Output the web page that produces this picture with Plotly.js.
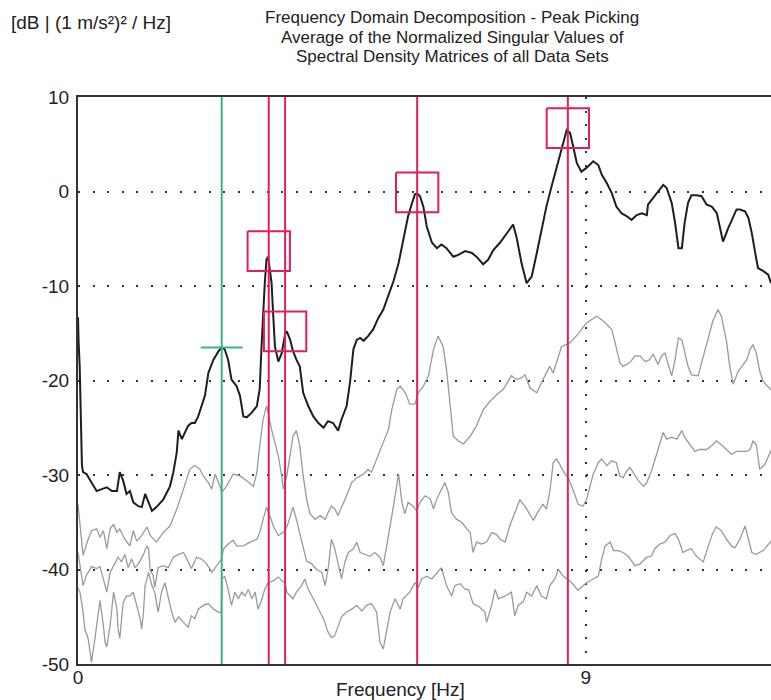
<!DOCTYPE html>
<html>
<head>
<meta charset="utf-8">
<script src="https://cdn.plot.ly/plotly-3.0.1.min.js"></script>
<style>html,body{margin:0;padding:0;background:#fff;}#chart{width:771px;height:700px;}</style>
</head>
<body>
<div id="chart"></div>
<script>
// ---- data (frequency [Hz], level [dB]) ----
const titleLines = [
  "Frequency Domain Decomposition - Peak Picking",
  "Average of the Normalized Singular Values of",
  "Spectral Density Matrices of all Data Sets"
];
const yUnitLabel = "[dB | (1 m/s²)² / Hz]";
const xTitle = "Frequency [Hz]";
const xTickVals = [0, 9];
const xTickText = ["0", "9"];
const yTickVals = [-50, -40, -30, -20, -10, 0, 10];
const yTickText = ["-50", "-40", "-30", "-20", "-10", "0", "10"];

// first singular value (black)
const sv1 = [[0,-13.3],[0.005,-15.8],[0.01,-15.8],[0.03,-18.5],[0.05,-24.5],[0.07,-29.0],[0.09,-29.7],[0.15,-29.9],[0.24,-30.8],[0.33,-31.7],[0.42,-31.5],[0.51,-31.3],[0.60,-31.7],[0.69,-31.7],[0.74,-29.7],[0.80,-30.6],[0.86,-32.0],[0.92,-31.7],[0.98,-32.9],[1.07,-33.3],[1.13,-33.4],[1.19,-32.0],[1.25,-32.9],[1.31,-33.8],[1.39,-33.4],[1.51,-32.6],[1.63,-31.2],[1.69,-29.7],[1.75,-27.6],[1.78,-25.3],[1.84,-26.2],[1.90,-25.5],[1.95,-24.8],[2.01,-24.5],[2.07,-24.5],[2.13,-23.8],[2.19,-22.7],[2.25,-21.6],[2.31,-19.2],[2.40,-17.8],[2.49,-16.9],[2.55,-16.5],[2.60,-16.7],[2.66,-17.8],[2.72,-19.9],[2.81,-20.6],[2.87,-21.6],[2.93,-23.8],[2.99,-23.9],[3.08,-23.4],[3.17,-22.7],[3.22,-20.9],[3.25,-16.7],[3.28,-12.8],[3.31,-9.7],[3.34,-7.2],[3.37,-6.9],[3.40,-8.3],[3.43,-9.7],[3.46,-13.2],[3.49,-16.4],[3.55,-18.0],[3.61,-17.1],[3.67,-15.1],[3.70,-14.8],[3.76,-15.7],[3.81,-16.9],[3.87,-17.8],[3.93,-18.5],[3.99,-21.3],[4.08,-22.7],[4.17,-23.8],[4.26,-24.5],[4.35,-25.0],[4.43,-24.3],[4.52,-24.5],[4.61,-25.3],[4.67,-24.1],[4.76,-22.7],[4.82,-20.2],[4.88,-16.7],[4.94,-15.7],[5.00,-15.5],[5.06,-15.8],[5.14,-15.3],[5.23,-14.6],[5.32,-13.4],[5.41,-12.5],[5.50,-11.1],[5.59,-9.5],[5.68,-7.6],[5.76,-5.1],[5.85,-2.6],[5.91,-1.4],[5.97,-0.3],[6.01,-0.2],[6.06,-0.5],[6.12,-1.6],[6.18,-3.7],[6.27,-5.4],[6.36,-6.0],[6.44,-5.6],[6.53,-6.0],[6.65,-6.9],[6.74,-6.7],[6.86,-6.3],[6.98,-6.5],[7.06,-6.9],[7.18,-7.7],[7.27,-7.2],[7.36,-6.2],[7.48,-5.4],[7.60,-4.4],[7.71,-3.5],[7.77,-4.8],[7.86,-7.6],[7.95,-9.7],[8.04,-9.0],[8.13,-6.5],[8.21,-4.0],[8.30,-1.6],[8.39,0.5],[8.48,2.6],[8.57,4.4],[8.66,6.5],[8.72,6.2],[8.78,4.4],[8.84,3.0],[8.92,2.1],[9.01,2.5],[9.13,3.2],[9.22,2.8],[9.28,1.8],[9.37,0.9],[9.46,-0.2],[9.54,-1.6],[9.63,-2.3],[9.72,-2.6],[9.81,-3.0],[9.90,-2.5],[9.99,-2.3],[10.08,-2.5],[10.10,-1.4],[10.19,-0.7],[10.28,0.0],[10.37,0.7],[10.43,0.4],[10.52,-1.2],[10.58,-3.3],[10.64,-6.0],[10.70,-6.0],[10.75,-3.3],[10.81,-1.2],[10.87,-0.4],[10.96,-0.4],[11.05,-0.5],[11.14,-1.4],[11.23,-1.6],[11.32,-2.3],[11.37,-3.7],[11.43,-5.3],[11.52,-3.9],[11.61,-2.6],[11.67,-1.9],[11.73,-1.9],[11.82,-2.1],[11.88,-2.8],[11.94,-4.4],[12.00,-6.5],[12.05,-8.1],[12.14,-8.4],[12.23,-8.8],[12.28,-9.7]];

// second singular value (grey)
const sv2 = [[0,-33.1],[0.09,-38.5],[0.18,-36.8],[0.24,-35.9],[0.33,-35.7],[0.39,-36.6],[0.45,-35.9],[0.51,-37.8],[0.57,-35.7],[0.63,-35.2],[0.69,-36.1],[0.74,-35.7],[0.83,-36.8],[0.92,-37.5],[0.98,-35.9],[1.04,-37.0],[1.13,-36.4],[1.22,-35.5],[1.28,-36.4],[1.39,-37.1],[1.45,-36.6],[1.51,-36.1],[1.63,-35.4],[1.75,-33.6],[1.87,-31.5],[1.98,-29.4],[2.07,-29.0],[2.16,-29.4],[2.22,-30.1],[2.31,-30.8],[2.37,-31.5],[2.43,-29.9],[2.49,-30.8],[2.55,-31.8],[2.63,-31.2],[2.75,-29.9],[2.87,-30.1],[2.99,-30.6],[3.11,-31.2],[3.17,-29.7],[3.22,-26.9],[3.28,-24.1],[3.34,-22.7],[3.37,-23.4],[3.43,-25.2],[3.49,-26.6],[3.55,-28.0],[3.61,-30.1],[3.64,-31.5],[3.70,-30.1],[3.76,-28.0],[3.81,-25.9],[3.87,-25.3],[3.93,-26.9],[3.99,-30.1],[4.05,-32.5],[4.11,-34.1],[4.20,-34.7],[4.29,-34.3],[4.38,-34.7],[4.43,-34.0],[4.49,-33.3],[4.55,-33.6],[4.61,-34.3],[4.67,-33.4],[4.76,-32.2],[4.85,-30.8],[4.94,-30.3],[5.06,-29.9],[5.14,-29.4],[5.20,-29.7],[5.29,-28.3],[5.38,-26.9],[5.50,-25.2],[5.56,-23.1],[5.65,-20.9],[5.71,-20.6],[5.80,-21.3],[5.88,-22.5],[5.97,-22.5],[6.03,-21.3],[6.12,-20.6],[6.21,-19.5],[6.30,-16.7],[6.38,-15.3],[6.47,-16.4],[6.53,-18.8],[6.59,-22.7],[6.65,-25.9],[6.74,-26.4],[6.83,-26.7],[6.95,-25.9],[7.06,-24.8],[7.18,-23.1],[7.30,-22.2],[7.42,-21.5],[7.54,-20.9],[7.68,-19.5],[7.77,-19.9],[7.86,-19.7],[7.92,-19.4],[8.01,-20.8],[8.13,-21.3],[8.24,-19.9],[8.36,-18.5],[8.42,-19.2],[8.48,-18.1],[8.57,-16.4],[8.72,-16.0],[8.86,-15.1],[9.01,-13.9],[9.19,-13.2],[9.31,-13.7],[9.46,-14.6],[9.51,-15.8],[9.60,-18.1],[9.66,-18.5],[9.78,-18.1],[9.87,-17.4],[9.96,-17.4],[10.05,-18.0],[10.13,-17.8],[10.19,-17.2],[10.28,-18.3],[10.34,-17.4],[10.40,-17.1],[10.46,-18.3],[10.52,-19.5],[10.58,-17.8],[10.64,-15.5],[10.70,-15.7],[10.75,-17.1],[10.81,-18.5],[10.87,-19.4],[10.99,-19.5],[11.05,-18.1],[11.14,-16.0],[11.25,-13.7],[11.34,-12.5],[11.40,-13.2],[11.49,-15.8],[11.55,-18.5],[11.61,-20.4],[11.70,-19.0],[11.79,-18.3],[11.85,-17.8],[11.91,-16.7],[11.96,-16.2],[12.02,-17.1],[12.08,-19.0],[12.14,-20.1],[12.28,-21.0]];

// third singular value (grey)
const sv3 = [[0,-38.2],[0.03,-39.5],[0.09,-41.7],[0.15,-40.6],[0.24,-39.7],[0.33,-39.9],[0.39,-39.7],[0.48,-41.7],[0.51,-42.4],[0.57,-40.3],[0.66,-39.2],[0.71,-38.7],[0.77,-39.2],[0.83,-38.4],[0.89,-39.8],[0.95,-38.9],[1.01,-39.8],[1.07,-39.4],[1.16,-38.4],[1.22,-37.5],[1.25,-37.8],[1.28,-40.1],[1.33,-40.6],[1.36,-41.9],[1.42,-39.8],[1.51,-39.6],[1.60,-39.8],[1.69,-38.7],[1.78,-38.4],[1.87,-38.2],[1.93,-38.9],[2.01,-39.9],[2.10,-38.7],[2.19,-38.9],[2.28,-39.4],[2.37,-40.3],[2.46,-39.6],[2.54,-38.9],[2.58,-37.8],[2.66,-37.3],[2.75,-36.9],[2.81,-37.5],[2.93,-37.5],[3.05,-37.1],[3.17,-36.8],[3.22,-36.1],[3.28,-34.7],[3.34,-33.4],[3.40,-34.3],[3.46,-35.4],[3.55,-36.4],[3.61,-36.1],[3.67,-35.9],[3.73,-35.0],[3.81,-33.4],[3.87,-34.7],[3.93,-36.1],[3.99,-37.5],[4.05,-39.1],[4.14,-39.4],[4.23,-40.0],[4.32,-40.3],[4.38,-41.7],[4.44,-39.6],[4.49,-36.8],[4.55,-37.8],[4.61,-39.6],[4.67,-41.0],[4.73,-39.2],[4.79,-38.2],[4.88,-37.8],[4.94,-37.1],[5.00,-38.2],[5.08,-38.4],[5.17,-38.6],[5.26,-38.2],[5.35,-38.7],[5.41,-39.6],[5.50,-36.6],[5.59,-33.3],[5.68,-29.9],[5.74,-32.9],[5.79,-34.1],[5.85,-32.9],[5.94,-33.3],[6.00,-33.8],[6.06,-32.9],[6.15,-32.2],[6.24,-32.5],[6.30,-33.6],[6.36,-32.5],[6.44,-31.5],[6.50,-30.8],[6.56,-31.8],[6.62,-34.0],[6.71,-34.7],[6.80,-35.0],[6.89,-35.7],[6.95,-36.1],[7.00,-38.2],[7.06,-37.1],[7.15,-37.3],[7.24,-37.1],[7.33,-36.1],[7.42,-36.3],[7.48,-36.8],[7.57,-37.1],[7.65,-35.4],[7.74,-34.0],[7.83,-32.6],[7.92,-33.3],[8.01,-34.3],[8.07,-34.8],[8.16,-33.8],[8.24,-33.1],[8.30,-33.6],[8.36,-31.8],[8.42,-28.7],[8.48,-28.3],[8.54,-28.9],[8.63,-29.9],[8.69,-30.3],[8.75,-31.2],[8.81,-32.2],[8.86,-33.1],[8.95,-33.3],[9.01,-32.6],[9.07,-31.2],[9.13,-29.9],[9.22,-28.7],[9.28,-28.3],[9.37,-29.0],[9.46,-28.5],[9.54,-28.7],[9.60,-30.1],[9.66,-30.3],[9.72,-29.6],[9.78,-29.2],[9.87,-30.1],[9.93,-30.6],[10.02,-31.2],[10.08,-30.8],[10.16,-29.6],[10.25,-27.8],[10.31,-26.8],[10.37,-25.5],[10.43,-26.2],[10.52,-26.0],[10.61,-26.2],[10.70,-25.3],[10.75,-26.0],[10.84,-26.8],[10.93,-27.5],[11.02,-27.3],[11.14,-27.3],[11.25,-26.8],[11.31,-26.4],[11.40,-26.8],[11.49,-27.3],[11.58,-27.8],[11.67,-27.5],[11.76,-27.5],[11.85,-27.5],[11.91,-27.3],[11.96,-26.4],[12.02,-26.8],[12.08,-29.4],[12.17,-28.9],[12.28,-27.4]];

// fourth singular value (grey)
const sv4 = [[0,-42.0],[0.035,-42.4],[0.09,-44.5],[0.12,-46.3],[0.18,-47.3],[0.21,-48.7],[0.24,-49.8],[0.30,-47.3],[0.33,-45.8],[0.39,-43.3],[0.45,-45.9],[0.48,-47.7],[0.51,-48.2],[0.57,-45.9],[0.63,-42.4],[0.69,-44.2],[0.71,-46.3],[0.74,-47.3],[0.80,-43.5],[0.86,-42.8],[0.92,-42.8],[0.98,-42.4],[1.04,-43.8],[1.10,-45.2],[1.13,-46.3],[1.16,-44.5],[1.19,-41.7],[1.25,-40.3],[1.31,-41.7],[1.36,-42.4],[1.42,-44.5],[1.48,-42.4],[1.54,-41.4],[1.60,-43.1],[1.66,-44.5],[1.72,-45.6],[1.78,-45.0],[1.87,-45.6],[1.95,-46.1],[2.01,-44.9],[2.07,-45.2],[2.13,-44.2],[2.22,-43.8],[2.31,-43.6],[2.40,-44.2],[2.49,-44.5],[2.54,-44.6],[2.55,-41.0],[2.60,-40.7],[2.66,-42.1],[2.72,-43.8],[2.78,-42.4],[2.84,-43.1],[2.90,-42.4],[2.96,-42.8],[3.02,-42.1],[3.08,-43.1],[3.14,-42.4],[3.19,-44.2],[3.25,-43.3],[3.31,-42.1],[3.37,-41.4],[3.46,-41.2],[3.55,-40.8],[3.61,-41.2],[3.67,-41.4],[3.70,-42.4],[3.76,-42.8],[3.81,-43.1],[3.87,-42.4],[3.96,-41.7],[4.02,-41.0],[4.08,-42.1],[4.17,-43.1],[4.26,-44.2],[4.35,-45.2],[4.43,-46.6],[4.49,-47.2],[4.55,-47.0],[4.61,-45.9],[4.67,-45.0],[4.76,-44.5],[4.85,-44.2],[4.94,-43.8],[5.03,-44.4],[5.11,-43.8],[5.20,-43.6],[5.29,-44.5],[5.35,-47.7],[5.41,-48.4],[5.47,-46.6],[5.53,-44.5],[5.62,-43.1],[5.71,-44.2],[5.76,-43.1],[5.88,-42.4],[5.97,-41.4],[6.03,-41.9],[6.09,-41.0],[6.18,-40.7],[6.27,-41.0],[6.36,-40.3],[6.44,-39.8],[6.53,-41.7],[6.62,-42.8],[6.68,-41.7],[6.77,-41.5],[6.86,-42.1],[6.92,-42.1],[7.00,-43.6],[7.12,-44.0],[7.21,-44.5],[7.24,-45.6],[7.33,-43.8],[7.39,-42.1],[7.45,-43.1],[7.57,-42.8],[7.68,-42.4],[7.74,-44.9],[7.80,-43.8],[7.89,-43.4],[7.95,-42.4],[8.04,-42.8],[8.13,-41.7],[8.21,-42.8],[8.30,-43.1],[8.36,-41.7],[8.45,-41.0],[8.51,-40.0],[8.60,-40.7],[8.66,-41.0],[8.75,-41.4],[8.86,-42.2],[8.92,-41.9],[9.01,-41.4],[9.13,-41.0],[9.22,-40.7],[9.28,-38.9],[9.34,-37.5],[9.43,-37.1],[9.49,-38.0],[9.57,-38.0],[9.66,-38.2],[9.75,-38.6],[9.87,-39.6],[9.96,-39.4],[10.02,-39.1],[10.08,-38.7],[10.16,-38.6],[10.22,-37.8],[10.31,-37.3],[10.40,-37.1],[10.49,-36.4],[10.58,-36.2],[10.64,-36.8],[10.72,-38.2],[10.78,-38.0],[10.87,-37.8],[10.96,-38.6],[11.08,-39.2],[11.17,-37.5],[11.25,-36.1],[11.31,-35.5],[11.40,-35.9],[11.49,-36.8],[11.58,-37.5],[11.64,-37.7],[11.73,-36.8],[11.82,-35.4],[11.88,-36.8],[11.94,-38.2],[12.02,-38.4],[12.14,-38.0],[12.28,-37.0]];

// picked peaks (red) and reference marker (green)
const pickedFreqs  = [3.38, 3.67, 6.01, 8.68];
const pickedLevels = [-6.3, -14.8, -0.1, 6.7];
const refFreq  = [2.546];
const refLevel = [-16.5];

// ---- drawing ----
const X_MAX = 12.28, Y_MIN = -50, Y_MAX = 10;
const BOX_HW = 0.375, BOX_HH = 2.1, MARK_HW = 0.37;
const RED = '#e01f5b', GREEN = '#35b48b';
const FONT = 'Liberation Sans, Arial, Helvetica, sans-serif';

function curve(pairs, color, width) {
  return {type:'scatter', mode:'lines', x:pairs.map(p=>p[0]), y:pairs.map(p=>p[1]),
          line:{color:color, width:width, shape:'linear'}, hoverinfo:'skip', showlegend:false};
}
function vlines(xs, color) {
  const x = [], y = [];
  xs.forEach(f => { x.push(f, f, null); y.push(Y_MIN, Y_MAX, null); });
  return {type:'scatter', mode:'lines', x, y, line:{color, width:2}, hoverinfo:'skip', showlegend:false};
}
function boxes(xs, ys) {
  const x = [], y = [];
  xs.forEach((f, i) => {
    const l = ys[i];
    x.push(f-BOX_HW, f+BOX_HW, f+BOX_HW, f-BOX_HW, f-BOX_HW, null);
    y.push(l+BOX_HH, l+BOX_HH, l-BOX_HH, l-BOX_HH, l+BOX_HH, null);
  });
  return {type:'scatter', mode:'lines', x, y, line:{color:RED, width:2}, hoverinfo:'skip', showlegend:false};
}
function hmark(xs, ys) {
  const x = [], y = [];
  xs.forEach((f, i) => { x.push(f-MARK_HW, f+MARK_HW, null); y.push(ys[i], ys[i], null); });
  return {type:'scatter', mode:'lines', x, y, line:{color:GREEN, width:2}, hoverinfo:'skip', showlegend:false};
}

const traces = [
  curve(sv4, '#9a9a9a', 1.3),
  curve(sv3, '#9a9a9a', 1.3),
  curve(sv2, '#9a9a9a', 1.3),
  curve(sv1, '#1e1e1e', 2),
  vlines(refFreq, GREEN),
  hmark(refFreq, refLevel),
  vlines(pickedFreqs, RED),
  boxes(pickedFreqs, pickedLevels)
];

const L = 78, T = 97, B = 36, W = 771, H = 700;
const PW = W - L, PH = H - T - B;
const px = v => (v - L) / PW;
const py = v => (H - B - v) / PH;

const annotations = titleLines.map((t, i) => ({
  text: t, xref:'paper', yref:'paper', x: px(452), y: py(18 + i*19),
  xanchor:'center', yanchor:'middle', showarrow:false,
  font:{family:FONT, size:17, color:'#222'}
}));
annotations.push({text: yUnitLabel, xref:'paper', yref:'paper', x: px(9), y: py(23),
  xanchor:'left', yanchor:'middle', showarrow:false, font:{family:FONT, size:19, color:'#222'}});
annotations.push({text: xTitle, xref:'paper', yref:'paper', x: px(400), y: py(690),
  xanchor:'center', yanchor:'middle', showarrow:false, font:{family:FONT, size:19, color:'#222'}});

const layout = {
  width: W, height: H,
  margin: {l: L, r: 0, t: T, b: B, pad: 0},
  paper_bgcolor: '#fff', plot_bgcolor: '#fff',
  showlegend: false,
  xaxis: {
    range: [0, X_MAX], tickvals: xTickVals, ticktext: xTickText,
    showgrid: true, gridcolor: '#333', gridwidth: 2, griddash: '2px,11.5px',
    zeroline: false, showline: true, linecolor: '#333', linewidth: 2, mirror: true,
    ticks: '', ticklabelstandoff: -5,
    tickfont: {family: FONT, size: 19, color: '#222'}, fixedrange: true
  },
  yaxis: {
    range: [Y_MIN, Y_MAX], tickvals: yTickVals, ticktext: yTickText,
    showgrid: true, gridcolor: '#333', gridwidth: 2, griddash: '2px,12.5px',
    zeroline: false, showline: true, linecolor: '#333', linewidth: 2, mirror: false,
    ticks: '', ticklabelstandoff: 3,
    tickfont: {family: FONT, size: 19, color: '#222'}, fixedrange: true
  },
  annotations
};

Plotly.newPlot('chart', traces, layout, {displayModeBar: false, staticPlot: true});
</script>
</body>
</html>
